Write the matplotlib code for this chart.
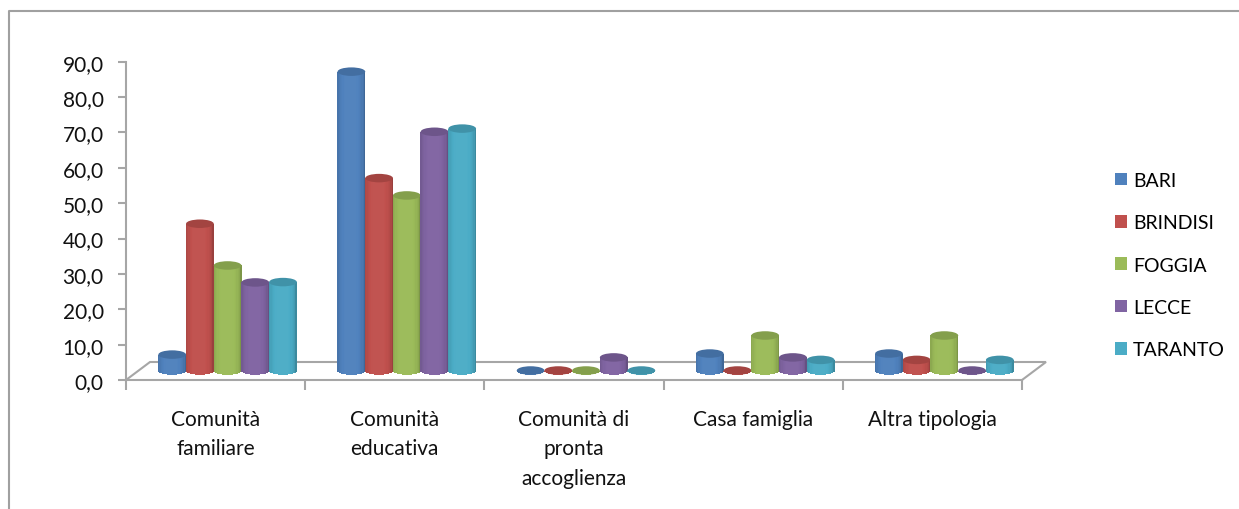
import numpy as np
import matplotlib
matplotlib.use("Agg")
import matplotlib.pyplot as plt
from matplotlib.patches import Ellipse, Patch
from matplotlib.colors import to_rgb

categories = ["Comunità\nfamiliare", "Comunità\neducativa", "Comunità di\npronta\naccoglienza", "Casa famiglia", "Altra tipologia"]
bari = [4.5, 84.5, 0.0, 4.8, 4.8]
brindisi = [41.5, 54.4, 0.0, 0.0, 3.0]
foggia = [29.7, 49.5, 0.0, 9.9, 9.9]
lecce = [24.9, 67.5, 3.7, 3.7, 0.0]
taranto = [25.0, 68.4, 0.0, 3.0, 3.0]
series_names = ["BARI", "BRINDISI", "FOGGIA", "LECCE", "TARANTO"]
series_values = [bari, brindisi, foggia, lecce, taranto]
colors = ["#4F81BD", "#C0504D", "#9BBB59", "#8064A2", "#4BACC6"]
yticks = list(range(0, 100, 10))

W, H = 1239, 510
FONT = "Lato"
fs = 15
plt.rcParams["font.family"] = [FONT, "DejaVu Sans"]
fig = plt.figure(figsize=(W / 100, H / 100), dpi=100)
L, R, T, B = 126, 1022, 62.7, 381
ax = fig.add_axes([L / W, 1 - B / H, (R - L) / W, (B - T) / H])
ax.set_xlim(0, 5)
ax.set_ylim(0, 90)
ax.patch.set_alpha(0)
GRAY = "#a6a6a6"
for s in ("top", "right"):
    ax.spines[s].set_visible(False)
for s in ("left", "bottom"):
    ax.spines[s].set_color(GRAY)
    ax.spines[s].set_linewidth(1.5)

pxx = 5 / (R - L)
pxy = 90 / (B - T)

# floor of the 3-D box
dx, dy = 24 * pxx, 18 * pxy
ax.plot([0, dx, 5 + dx, 5], [0, dy, dy, 0], color=GRAY, lw=1.5, clip_on=False, zorder=1, solid_joinstyle="miter")

# axes ticks
ax.set_yticks(yticks)
ax.set_yticklabels([f"{v:.1f}".replace(".", ",") for v in yticks], fontsize=fs, color="#111111")
ax.tick_params(axis="y", length=6, width=1.5, color=GRAY, pad=10)
ax.set_xticks(range(6))
ax.set_xticklabels([])
ax.tick_params(axis="x", which="major", length=7, width=1.5, color=GRAY)
ax.set_xticks(np.arange(5) + 0.5, minor=True)
ax.set_xticklabels(categories, minor=True, fontsize=fs, linespacing=1.58, color="#111111")
ax.tick_params(axis="x", which="minor", length=0, pad=21)


def shade(c, f):
    r = np.array(to_rgb(c))
    return tuple(r * f) if f <= 1 else tuple(r + (1 - r) * (f - 1))


bar_w = 27.7 * pxx
ell_h = 8.5 * pxy
base = 9.5 * pxy
shift = 12 * pxx
N = 22
for i, (vals, col) in enumerate(zip(series_values, colors)):
    for j, v in enumerate(vals):
        xc = j + 0.5 + shift + (i - 2) * bar_w
        u = (np.arange(N) + 0.5) / N * 2 - 1
        for uk in u:
            f = 0.80 + 0.24 * np.sqrt(max(0, 1 - (uk + 0.05) ** 2))
            drop = ell_h / 2 * np.sqrt(1 - uk ** 2)
            ax.bar(xc + uk * bar_w / 2, v + drop, width=bar_w / N * 1.25,
                   bottom=base - drop, color=shade(col, min(f, 1.02)), linewidth=0, zorder=3 + i + j * 10)
        ax.add_patch(Ellipse((xc, base + v), bar_w, ell_h, facecolor=shade(col, 0.85),
                             edgecolor="none", zorder=3.5 + i + j * 10))

handles = [Patch(facecolor=c, edgecolor="none", label=n) for c, n in zip(colors, series_names)]
fig.legend(handles=handles, loc="upper left", bbox_to_anchor=(1115 / W, 1 - 173 / H), frameon=False,
           fontsize=14, handlelength=0.62, handleheight=0.62, handletextpad=0.31,
           labelspacing=1.30, borderpad=0, borderaxespad=0)

# chart frame, cut by the picture edges
fig.add_artist(plt.Line2D([9 / W, 9 / W, 1], [0, 1 - 12 / H, 1 - 12 / H], color="#a0a0a0", lw=1.5,
                          transform=fig.transFigure))

fig.savefig("out.png", dpi=100)
